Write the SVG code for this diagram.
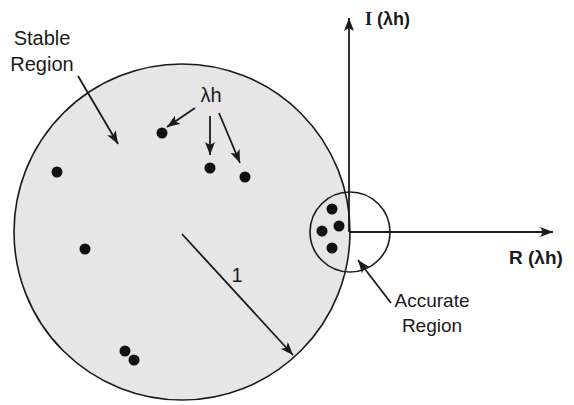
<svg xmlns="http://www.w3.org/2000/svg" width="574" height="405" viewBox="0 0 574 405">
<style>
.lbl{font-family:"Liberation Sans",Arial,sans-serif;fill:#1a1a1a}
.ln{stroke:#1a1a1a;stroke-width:1.8;fill:none}
.dot{fill:#111}
</style>
<defs>
<marker id="ah" markerUnits="userSpaceOnUse" markerWidth="14" markerHeight="10" refX="13" refY="5" orient="auto">
<path d="M0,0 L13,5 L0,10 L3,5 z" fill="#1a1a1a"/>
</marker>
</defs>
<rect width="574" height="405" fill="#fff"/>
<g id="stable-circle">
<circle cx="182" cy="232" r="168" fill="#e6e6e6" stroke="#1a1a1a" stroke-width="1.6"/>
</g>
<g id="accurate-circle">
<circle cx="350" cy="232" r="40" fill="none" stroke="#1a1a1a" stroke-width="1.6"/>
</g>
<g id="connectors">
<line class="ln" x1="349" y1="232" x2="349" y2="18" marker-end="url(#ah)" stroke-width="2"/>
<line class="ln" x1="349" y1="232" x2="553" y2="232" marker-end="url(#ah)" stroke-width="2"/>
<line class="ln" x1="182" y1="234" x2="293" y2="355" marker-end="url(#ah)"/>
<line class="ln" x1="78" y1="76" x2="118" y2="144" marker-end="url(#ah)"/>
<line class="ln" x1="195" y1="108" x2="167" y2="127" marker-end="url(#ah)"/>
<line class="ln" x1="210" y1="116" x2="210" y2="155" marker-end="url(#ah)"/>
<line class="ln" x1="219" y1="113" x2="240" y2="163" marker-end="url(#ah)"/>
<line class="ln" x1="391" y1="303" x2="358" y2="260" marker-end="url(#ah)"/>
</g>
<g id="dots">
<circle class="dot" cx="162" cy="133" r="5.5"/>
<circle class="dot" cx="210" cy="168" r="5.5"/>
<circle class="dot" cx="245" cy="177" r="5.5"/>
<circle class="dot" cx="57" cy="172" r="5.5"/>
<circle class="dot" cx="85" cy="249" r="5.5"/>
<circle class="dot" cx="125" cy="351" r="5.5"/>
<circle class="dot" cx="134" cy="360" r="5.5"/>
<circle class="dot" cx="332" cy="209" r="5.5"/>
<circle class="dot" cx="339" cy="226" r="5.5"/>
<circle class="dot" cx="322" cy="231" r="5.5"/>
<circle class="dot" cx="332" cy="248" r="5.5"/>
</g>
<g id="label-stable">
<text class="lbl" x="42" y="45" font-size="20" text-anchor="middle">Stable</text>
<text class="lbl" x="42" y="71" font-size="20" text-anchor="middle">Region</text>
</g>
<g id="label-lh">
<text class="lbl" x="211" y="102" font-size="20" text-anchor="middle">λh</text>
</g>
<g id="label-one">
<text class="lbl" x="237" y="282" font-size="20" text-anchor="middle">1</text>
</g>
<g id="label-I">
<text class="lbl" x="365" y="25" font-size="18" font-weight="bold"><tspan font-family="Liberation Serif,serif">I</tspan> (λh)</text>
</g>
<g id="label-R">
<text class="lbl" x="509" y="264" font-size="19" font-weight="bold">R (λh)</text>
</g>
<g id="label-accurate">
<text class="lbl" x="432" y="307" font-size="19" text-anchor="middle">Accurate</text>
<text class="lbl" x="432" y="332" font-size="19" text-anchor="middle">Region</text>
</g>
</svg>
